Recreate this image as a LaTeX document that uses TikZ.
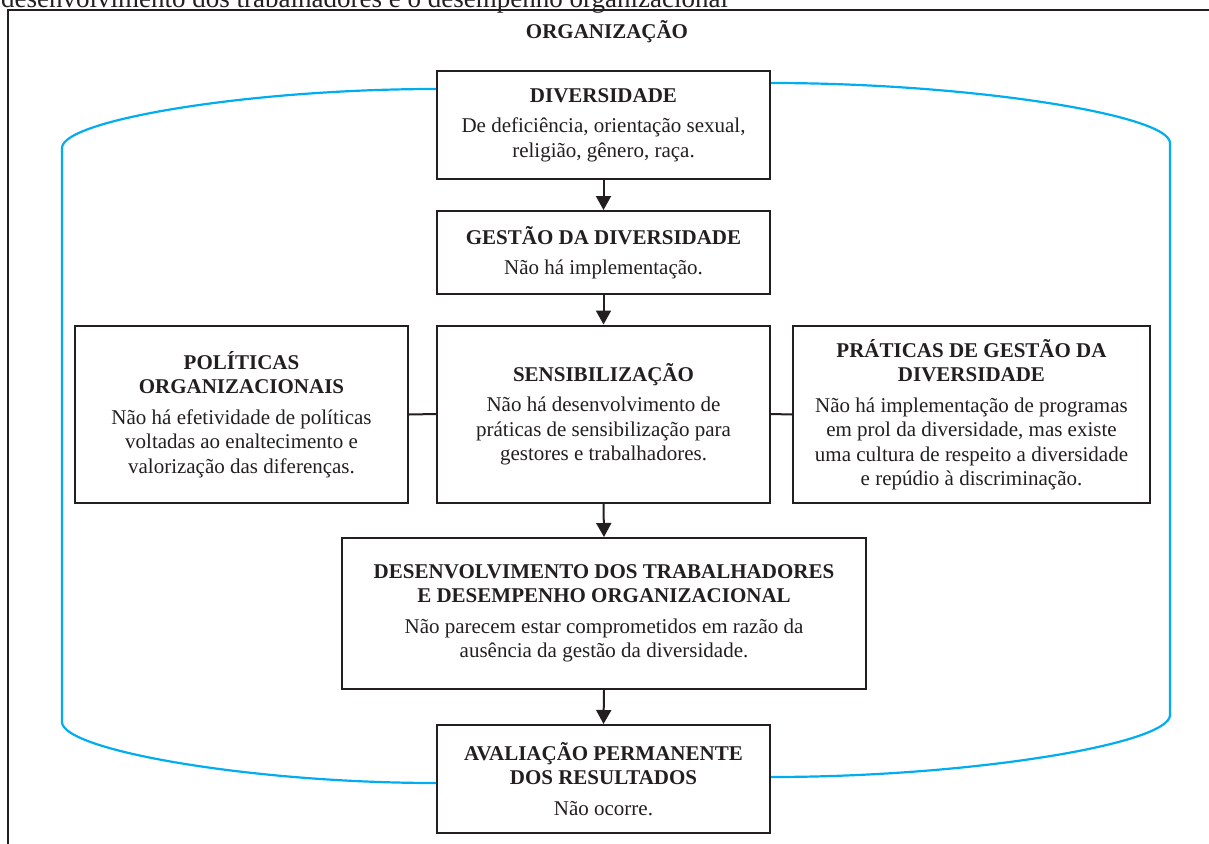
\documentclass[tikz,border=0pt]{standalone}
\usepackage{fontspec}
\setmainfont{Liberation Serif}
\usetikzlibrary{arrows.meta}
\definecolor{ink}{HTML}{231F20}
\definecolor{loopblue}{RGB}{0,174,239}
\tikzset{
  boxnode/.style={draw=ink, line width=2pt, rectangle, inner sep=0pt, align=center,
    text=ink, font=\fontsize{21}{24.5}\selectfont},
  flowarrow/.style={draw=ink, line width=2pt, -{Triangle[width=15pt,length=14pt]}},
  sideline/.style={draw=ink, line width=2pt},
  loopline/.style={draw=loopblue, line width=2.2pt},
  frameline/.style={draw=ink, line width=1.6pt}
}
\begin{document}
\begin{tikzpicture}[x=1pt,y=-1pt]
\useasboundingbox (0,0) rectangle (1209,843);
\clip (0,0) rectangle (1209,843);
\fill[white] (0,0) rectangle (1209,843);
% cut-off caption above the frame
\node[anchor=base west, inner sep=0pt, text=ink, font=\fontsize{27}{30}\selectfont] (cap) at (1,7.5)
  {desenvolvimento dos trabalhadores e o desempenho organizacional};
% outer frame (extends beyond the picture)
\draw[frameline] (8,860) -- (8,10) -- (1230,10);
\node[anchor=base, inner sep=0pt, text=ink, font=\fontsize{21}{24}\selectfont\bfseries] (org) at (607,39) {ORGANIZAÇÃO};

\node[boxnode, minimum width=333pt, minimum height=108pt] (div) at (603.5,125)
  {\textbf{DIVERSIDADE}\\[6pt]De deficiência, orientação sexual,\\religião, gênero, raça.};
\node[boxnode, minimum width=333pt, minimum height=83pt] (gest) at (603.5,252.5)
  {\textbf{GESTÃO DA DIVERSIDADE}\\[6pt]Não há implementação.};
\node[boxnode, minimum width=333pt, minimum height=177pt] (sens) at (603.5,414)
  {\textbf{SENSIBILIZAÇÃO}\\[6pt]Não há desenvolvimento de\\práticas de sensibilização para\\gestores e trabalhadores.};
\node[boxnode, minimum width=333pt, minimum height=177pt] (pol) at (241.5,414.5)
  {\textbf{POLÍTICAS}\\\textbf{ORGANIZACIONAIS}\\[6pt]Não há efetividade de políticas\\voltadas ao enaltecimento e\\valorização das diferenças.};
\node[boxnode, minimum width=357pt, minimum height=177pt] (prat) at (971.5,414.5)
  {\textbf{PRÁTICAS DE GESTÃO DA}\\\textbf{DIVERSIDADE}\\[6pt]Não há implementação de programas\\em prol da diversidade, mas existe\\uma cultura de respeito a diversidade\\e repúdio à discriminação.};
\node[boxnode, minimum width=524pt, minimum height=151pt] (des) at (604,613.5)
  {\textbf{DESENVOLVIMENTO DOS TRABALHADORES}\\\textbf{E DESEMPENHO ORGANIZACIONAL}\\[6pt]Não parecem estar comprometidos em razão da\\ausência da gestão da diversidade.};
\node[boxnode, minimum width=333pt, minimum height=108pt] (aval) at (603.5,779)
  {\textbf{AVALIAÇÃO PERMANENTE}\\\textbf{DOS RESULTADOS}\\[6pt]Não ocorre.};

% flow arrows
\draw[flowarrow] (div.south) -- (gest.north);
\draw[flowarrow] (gest.south) -- (sens.north);
\draw[flowarrow] (sens.south) -- (des.north);
\draw[flowarrow] (des.south) -- (aval.north);
% side connectors
\draw[sideline] (pol.east) -- (sens.west);
\draw[sideline] (sens.east) -- (prat.west);

% blue loop
\draw[loopline] ([yshift=36pt]div.west) .. controls (250,89) and (62,120) .. (62,148)
  -- (62,722) .. controls (62,750) and (250,783) .. ([yshift=-4pt]aval.west);
\draw[loopline] ([yshift=42pt]div.east) .. controls (970,83) and (1170,115) .. (1170,143)
  -- (1170,715) .. controls (1170,744) and (970,777) .. ([yshift=2pt]aval.east);
\end{tikzpicture}
\end{document}
